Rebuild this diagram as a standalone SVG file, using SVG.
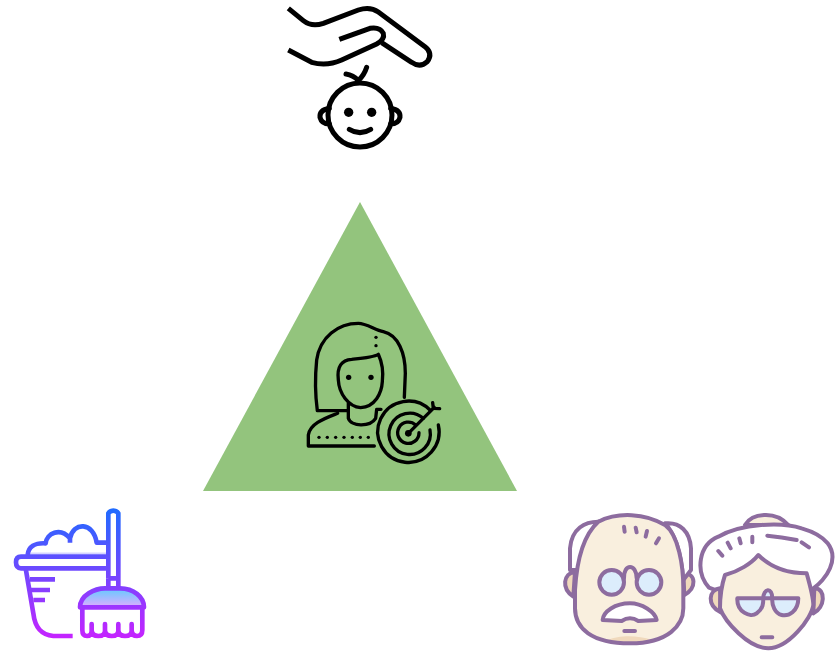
<svg xmlns="http://www.w3.org/2000/svg" width="837" height="653" viewBox="0 0 837 653">
<defs>
<linearGradient id="lineGrad" gradientUnits="userSpaceOnUse" x1="0" y1="15" x2="0" y2="420"><stop offset="0" stop-color="#1a6dff"/><stop offset="1" stop-color="#c822ff"/></linearGradient>
<linearGradient id="domeGrad" gradientUnits="userSpaceOnUse" x1="0" y1="270" x2="0" y2="325"><stop offset="0" stop-color="#6dc7ff"/><stop offset="1" stop-color="#e6abff"/></linearGradient>
</defs>
<style>
.ink{fill:none;stroke:#000;stroke-linecap:round;stroke-linejoin:round}
.broom{fill:none;stroke:url(#lineGrad);stroke-width:14;stroke-linejoin:round}
.old{stroke:#8d6c9f;stroke-width:12;stroke-linecap:round;stroke-linejoin:round}
.skin{fill:#f9efde}.tan{fill:#f0d9bc}.white{fill:#fff}.glass{fill:#dcedfc}.none{fill:none}
</style>
<rect width="837" height="653" fill="#fff"/>
<g id="baby" transform="translate(270,0) scale(.3333)">
<g class="ink" stroke-width="15">
<path stroke-linecap="butt" d="M55,25 L100,62 Q125,82 160,70 L265,30 Q300,18 325,36 L465,140 Q490,160 472,185 Q450,205 425,187 L335,128"/>
<path stroke-linecap="butt" d="M55,150 L125,187 Q170,200 215,180 L320,132 Q345,118 340,100 Q330,80 300,85 L208,118"/>
<circle cx="270" cy="345" r="96"/>
<path d="M178,325 Q148,330 150,352 Q155,372 178,372"/>
<path d="M362,325 Q392,330 390,352 Q385,372 362,372"/>
<path d="M238,388 Q270,408 302,388"/>
<path d="M290,202 Q283,225 265,242 Q250,225 228,222"/>
</g>
<circle cx="236" cy="337" r="14"/><circle cx="305" cy="337" r="14"/>
</g>
<polygon id="triangle" points="360,202 517,491 203,491" fill="#93c47d"/>
<g id="woman-target" transform="translate(295,310) scale(.3333)">
<g class="ink" stroke-width="10">
<path d="M328,262 L331,190 C331,130 310,75 265,65 C240,60 215,40 190,40 C130,40 75,80 65,150 C60,200 60,250 67,302 L160,302"/>
<path d="M130,210 C125,170 140,150 170,148 C200,145 235,142 250,133 C265,165 265,190 262,215 C260,250 240,290 197,293 C160,290 132,250 130,210 Z"/>
<path d="M160,280 L160,325 C168,350 225,352 242,325 L245,298 L258,298"/>
<path d="M128,310 C90,325 45,340 40,375 L40,408 L238,408"/>
<path d="M405,300 A92,92 0 1 0 430,345"/>
<path d="M385,325 A62,62 0 1 0 405,360"/>
<path d="M362,345 A32,32 0 1 0 372,368"/>
<path d="M340,370 L418,292"/>
<path d="M413,278 L415,295 L434,296"/>
</g>
<g>
<circle cx="161" cy="202" r="8"/><circle cx="228" cy="202" r="8"/>
<circle cx="243" cy="82" r="5"/><circle cx="243" cy="107" r="5"/>
<circle cx="72" cy="382" r="5"/><circle cx="97" cy="382" r="5"/><circle cx="122" cy="382" r="5"/><circle cx="147" cy="382" r="5"/><circle cx="172" cy="382" r="5"/><circle cx="196" cy="382" r="5"/><circle cx="220" cy="382" r="5"/>
<circle cx="340" cy="370" r="10"/>
</g>
</g>
<g id="bucket-broom" transform="translate(5,500) scale(.3333)">
<path d="M225,322 C225,285 270,265 300,265 L345,265 C385,265 417,290 417,322 Z" fill="url(#domeGrad)"/>
<g class="broom">
<path d="M310,235 L310,40 A18,18 0 0 1 340,40 L340,265"/>
<path d="M310,235 L340,235 M310,235 L310,265"/>
<path d="M225,322 C225,285 270,265 300,265 L345,265 C385,265 417,290 417,322 Z"/>
<path d="M232,322 L232,390 Q232,408 246,408 Q260,408 260,392 L260,372 L260,392 Q262,408 280,408 Q300,408 300,392 L300,372 L300,392 Q302,408 320,408 Q340,408 340,392 L340,372 L340,392 Q342,408 360,408 Q380,408 380,392 L380,372 L380,392 Q382,408 396,408 Q412,408 412,390 L412,322"/>
<path d="M303,170 L48,170 Q33,170 33,187 Q33,205 48,205 L303,205"/>
<path d="M68,165 C70,140 90,128 122,130 C125,100 165,80 195,115 L195,128 M195,115 C205,65 265,65 275,128 L303,128"/>
<path d="M72,160 L303,160" stroke-width="5" opacity=".25"/>
<path d="M62,205 L85,340 C90,385 110,405 145,408 L203,408"/>
<path d="M75,238 L150,238 M75,270 L135,270 M85,300 L120,300"/>
</g>
</g>
<g id="grandfather" transform="translate(555,505) scale(.3333)">
<path class="old tan" d="M60,200 C25,205 18,250 55,275 Z"/>
<path class="old tan" d="M385,205 C425,205 425,250 388,270 Z"/>
<path class="old white" d="M130,50 C90,50 50,70 45,130 L45,195 L80,195 C85,140 100,80 130,50 Z"/>
<path class="old white" d="M330,55 C375,50 405,80 408,130 L408,195 L385,225 C380,160 365,90 330,55 Z"/>
<path class="skin" d="M130,50 C190,20 270,25 330,60 C370,90 385,180 385,250 L385,310 C385,360 340,415 225,415 C110,415 60,370 60,310 L60,250 C65,170 85,90 130,50 Z"/>
<path class="tan" d="M160,405 C190,390 250,390 290,405 C270,418 190,418 160,405 Z"/>
<path class="old none" d="M130,50 C190,20 270,25 330,60 C370,90 385,180 385,250 L385,310 C385,360 340,415 225,415 C110,415 60,370 60,310 L60,255 C65,170 85,90 130,50"/>
<path class="old none" d="M207,65 L209,80 M242,68 L245,82 M276,78 L272,95 M312,100 L303,115 M208,378 L240,378"/>
<circle class="old glass" cx="170" cy="232" r="37"/><circle class="old glass" cx="282" cy="232" r="37"/>
<path class="old none" d="M207,220 C205,175 245,175 245,220"/>
<path class="old white" d="M143,345 C145,320 180,295 225,295 C260,295 300,320 305,345 L250,348 Q225,332 200,348 Z"/>
</g>
<g id="grandmother" transform="translate(555,505) scale(.3333)">
<path class="old skin" d="M570,60 C590,25 660,15 700,60 Z"/>
<path class="old white" d="M462,248 C420,200 430,120 490,95 C560,55 680,50 740,70 C810,90 850,130 825,190 C815,215 790,240 775,250 L600,300 Z"/>
<path class="old tan" d="M495,250 C460,255 455,300 497,322 Z"/>
<path class="old tan" d="M778,250 C815,250 810,310 775,325 Z"/>
<path class="old skin" d="M510,210 C550,200 590,175 610,150 C650,190 700,205 755,205 C765,240 775,280 775,300 C770,340 700,430 640,430 C580,430 510,350 495,310 C495,280 500,240 510,210 Z"/>
<path class="old glass" d="M547,280 L625,280 C625,250 652,245 652,280 L730,280 C730,320 700,335 680,330 C660,325 650,300 652,280 L625,280 C625,295 625,310 605,325 C585,340 545,320 547,280 Z"/>
<path class="old none" d="M620,397 L652,397 M490,138 L502,152 M518,113 L527,130 M553,100 L557,115 M592,95 L592,112 M637,92 C670,95 700,100 725,105 M740,112 L762,127"/>
</g>
</svg>
